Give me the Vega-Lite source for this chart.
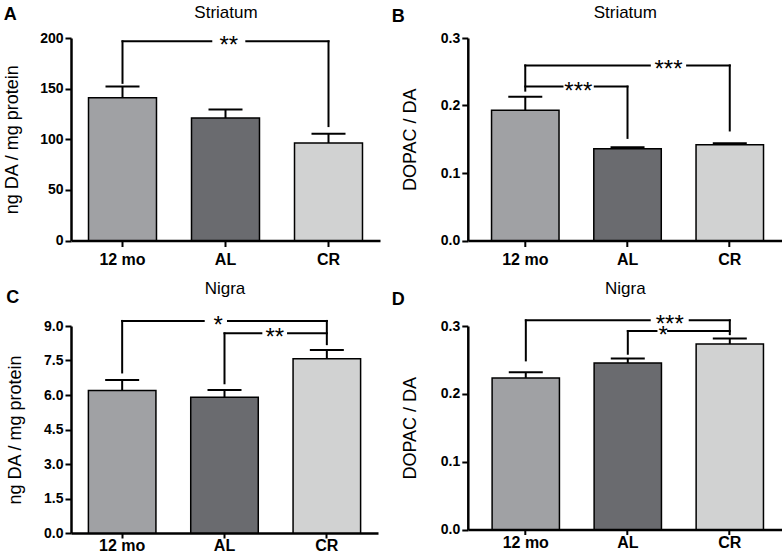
{
  "$schema": "https://vega.github.io/schema/vega-lite/v6.json",
  "padding": {"left": 3, "top": 3, "right": 0, "bottom": 0},
  "config": {
    "font": "Liberation Sans",
    "view": {"stroke": null},
    "axis": {"labelColor": "black", "titleColor": "black", "domainColor": "black", "tickColor": "black", "grid": false},
    "title": {"color": "black", "font": "Liberation Sans"}
  },
  "datasets": {
    "bars": [
      {"panel": "A", "group": "12 mo", "mean": 141, "upper": 152},
      {"panel": "A", "group": "AL", "mean": 121, "upper": 129.5},
      {"panel": "A", "group": "CR", "mean": 96.3, "upper": 105.5},
      {"panel": "B", "group": "12 mo", "mean": 0.193, "upper": 0.213},
      {"panel": "B", "group": "AL", "mean": 0.136, "upper": 0.138},
      {"panel": "B", "group": "CR", "mean": 0.142, "upper": 0.144},
      {"panel": "C", "group": "12 mo", "mean": 6.2, "upper": 6.65},
      {"panel": "C", "group": "AL", "mean": 5.9, "upper": 6.22},
      {"panel": "C", "group": "CR", "mean": 7.58, "upper": 7.96},
      {"panel": "D", "group": "12 mo", "mean": 0.2235, "upper": 0.232},
      {"panel": "D", "group": "AL", "mean": 0.2455, "upper": 0.252},
      {"panel": "D", "group": "CR", "mean": 0.2735, "upper": 0.2815}
    ],
    "brackets": [
      {"panel": "A", "x": 0.5, "x2": 1.362, "y": 196.7, "y2": 196.7},
      {"panel": "A", "x": 1.702, "x2": 2.5, "y": 196.7, "y2": 196.7},
      {"panel": "A", "x": 0.5, "x2": 0.5, "y": 196.7, "y2": 155.7},
      {"panel": "A", "x": 2.5, "x2": 2.5, "y": 196.7, "y2": 113},
      {"panel": "B", "x": 0.5, "x2": 1.718, "y": 0.2594, "y2": 0.2594},
      {"panel": "B", "x": 2.083, "x2": 2.5, "y": 0.2594, "y2": 0.2594},
      {"panel": "B", "x": 0.5, "x2": 0.5, "y": 0.2594, "y2": 0.222},
      {"panel": "B", "x": 2.5, "x2": 2.5, "y": 0.2594, "y2": 0.163},
      {"panel": "B", "x": 0.5, "x2": 0.864, "y": 0.228, "y2": 0.228},
      {"panel": "B", "x": 1.18, "x2": 1.5, "y": 0.228, "y2": 0.228},
      {"panel": "B", "x": 1.5, "x2": 1.5, "y": 0.228, "y2": 0.152},
      {"panel": "C", "x": 0.5, "x2": 1.297, "y": 9.22, "y2": 9.22},
      {"panel": "C", "x": 1.534, "x2": 2.5, "y": 9.22, "y2": 9.22},
      {"panel": "C", "x": 0.5, "x2": 0.5, "y": 9.22, "y2": 6.98},
      {"panel": "C", "x": 2.5, "x2": 2.5, "y": 9.22, "y2": 8.21},
      {"panel": "C", "x": 1.5, "x2": 1.86, "y": 8.68, "y2": 8.68},
      {"panel": "C", "x": 2.121, "x2": 2.5, "y": 8.68, "y2": 8.68},
      {"panel": "C", "x": 1.5, "x2": 1.5, "y": 8.68, "y2": 6.51},
      {"panel": "D", "x": 0.5, "x2": 1.715, "y": 0.3083, "y2": 0.3083},
      {"panel": "D", "x": 2.107, "x2": 2.5, "y": 0.3083, "y2": 0.3083},
      {"panel": "D", "x": 0.5, "x2": 0.5, "y": 0.3083, "y2": 0.2493},
      {"panel": "D", "x": 2.5, "x2": 2.5, "y": 0.3083, "y2": 0.288},
      {"panel": "D", "x": 1.5, "x2": 1.781, "y": 0.2926, "y2": 0.2926},
      {"panel": "D", "x": 1.895, "x2": 2.5, "y": 0.2926, "y2": 0.2926},
      {"panel": "D", "x": 1.5, "x2": 1.5, "y": 0.2926, "y2": 0.2591}
    ],
    "stars": [
      {"panel": "A", "x": 1.532, "y": 196.7, "label": "**"},
      {"panel": "B", "x": 1.019, "y": 0.228, "label": "***"},
      {"panel": "B", "x": 1.901, "y": 0.2594, "label": "***"},
      {"panel": "C", "x": 1.437, "y": 9.22, "label": "*"},
      {"panel": "C", "x": 1.991, "y": 8.68, "label": "**"},
      {"panel": "D", "x": 1.911, "y": 0.3083, "label": "***"},
      {"panel": "D", "x": 1.846, "y": 0.2926, "label": "*"}
    ]
  },
  "vconcat": [
    {
      "hconcat": [
        {
          "width": 309, "height": 202.5,
          "title": {"text": "A", "anchor": "start", "frame": "bounds", "baseline": "alphabetic", "offset": -33.6, "fontSize": 18, "fontWeight": "bold"},
          "resolve": {"scale": {"x": "independent"}, "axis": {"x": "independent"}},
          "layer": [
            {
              "data": {"name": "bars"},
              "transform": [{"filter": "datum.panel == 'A'"}],
              "encoding": {
                "x": {"field": "group", "type": "nominal", "sort": ["12 mo", "AL", "CR"], "scale": {"type": "band", "paddingInner": 0.34, "paddingOuter": 0.17},
                  "axis": {"title": null, "labelAngle": 0, "labelFontSize": 16, "labelFontWeight": "bold", "labelPadding": 5, "tickSize": 6, "tickWidth": 2, "domainWidth": 2.5}}
              },
              "layer": [
                {"mark": {"type": "bar", "stroke": "black", "strokeWidth": 1.5},
                 "encoding": {
                   "y": {"field": "mean", "type": "quantitative", "scale": {"domain": [0, 200], "nice": false},
                     "axis": {"title": "ng DA / mg protein", "values": [0, 50, 100, 150, 200], "labelFontSize": 14, "labelFontWeight": "bold", "labelPadding": 2, "tickSize": 6, "tickWidth": 2, "domainWidth": 2.5, "titleFontSize": 18, "titleFontWeight": "normal", "titlePadding": 18}},
                   "color": {"field": "group", "type": "nominal", "scale": {"domain": ["12 mo", "AL", "CR"], "range": ["#a0a1a4", "#6a6b6f", "#d1d2d2"]}, "legend": null}}},
                {"mark": {"type": "rule", "color": "black", "strokeWidth": 2},
                 "encoding": {"y": {"field": "mean", "type": "quantitative",
                     "axis": {"title": "ng DA / mg protein", "values": [0, 50, 100, 150, 200], "labelFontSize": 14, "labelFontWeight": "bold", "labelPadding": 2, "tickSize": 6, "tickWidth": 2, "domainWidth": 2.5, "titleFontSize": 18, "titleFontWeight": "normal", "titlePadding": 18}}, "y2": {"field": "upper"}}},
                {"mark": {"type": "tick", "color": "black", "thickness": 2, "size": 34, "opacity": 1},
                 "encoding": {"y": {"field": "upper", "type": "quantitative",
                     "axis": {"title": "ng DA / mg protein", "values": [0, 50, 100, 150, 200], "labelFontSize": 14, "labelFontWeight": "bold", "labelPadding": 2, "tickSize": 6, "tickWidth": 2, "domainWidth": 2.5, "titleFontSize": 18, "titleFontWeight": "normal", "titlePadding": 18}}}}
              ]
            },
            {
              "layer": [
                {"data": {"name": "brackets"}, "transform": [{"filter": "datum.panel == 'A'"}],
                 "mark": {"type": "rule", "color": "black", "strokeWidth": 2, "strokeCap": "square"},
                 "encoding": {
                   "x": {"field": "x", "type": "quantitative", "scale": {"domain": [0, 3], "nice": false, "zero": false},
                     "axis": {"orient": "top", "title": "Striatum", "labels": false, "ticks": false, "domain": false, "titleFontSize": 17, "titleFontWeight": "normal", "titlePadding": 16.1}},
                   "x2": {"field": "x2"},
                   "y": {"field": "y", "type": "quantitative", "scale": {"domain": [0, 200], "nice": false},
                     "axis": {"title": "ng DA / mg protein", "values": [0, 50, 100, 150, 200], "labelFontSize": 14, "labelFontWeight": "bold", "labelPadding": 2, "tickSize": 6, "tickWidth": 2, "domainWidth": 2.5, "titleFontSize": 18, "titleFontWeight": "normal", "titlePadding": 18}},
                   "y2": {"field": "y2"}}},
                {"data": {"name": "stars"}, "transform": [{"filter": "datum.panel == 'A'"}],
                 "mark": {"type": "text", "fontSize": 24, "baseline": "alphabetic", "dy": 12, "color": "black"},
                 "encoding": {
                   "x": {"field": "x", "type": "quantitative",
                     "axis": {"orient": "top", "title": "Striatum", "labels": false, "ticks": false, "domain": false, "titleFontSize": 17, "titleFontWeight": "normal", "titlePadding": 16.1}},
                   "y": {"field": "y", "type": "quantitative",
                     "axis": {"title": "ng DA / mg protein", "values": [0, 50, 100, 150, 200], "labelFontSize": 14, "labelFontWeight": "bold", "labelPadding": 2, "tickSize": 6, "tickWidth": 2, "domainWidth": 2.5, "titleFontSize": 18, "titleFontWeight": "normal", "titlePadding": 18}},
                   "text": {"field": "label"}}}
              ]
            }
          ]
        },
        {
          "width": 314, "height": 202.5,
          "title": {"text": "B", "anchor": "start", "frame": "bounds", "baseline": "alphabetic", "offset": -35.8, "dx": -10, "fontSize": 18, "fontWeight": "bold"},
          "resolve": {"scale": {"x": "independent"}, "axis": {"x": "independent"}},
          "layer": [
            {
              "data": {"name": "bars"},
              "transform": [{"filter": "datum.panel == 'B'"}],
              "encoding": {
                "x": {"field": "group", "type": "nominal", "sort": ["12 mo", "AL", "CR"], "scale": {"type": "band", "paddingInner": 0.34, "paddingOuter": 0.2055, "align": 0.565},
                  "axis": {"title": null, "labelAngle": 0, "labelFontSize": 16, "labelFontWeight": "bold", "labelPadding": 5, "tickSize": 6, "tickWidth": 2, "domainWidth": 2.5}}
              },
              "layer": [
                {"mark": {"type": "bar", "stroke": "black", "strokeWidth": 1.5},
                 "encoding": {
                   "y": {"field": "mean", "type": "quantitative", "scale": {"domain": [0, 0.3], "nice": false},
                     "axis": {"title": "DOPAC / DA", "values": [0, 0.1, 0.2, 0.3], "format": ".1f", "labelFontSize": 14, "labelFontWeight": "bold", "labelPadding": 2, "tickSize": 6, "tickWidth": 2, "domainWidth": 2.5, "titleFontSize": 18, "titleFontWeight": "normal", "titlePadding": 20.6}},
                   "color": {"field": "group", "type": "nominal", "scale": {"domain": ["12 mo", "AL", "CR"], "range": ["#a0a1a4", "#6a6b6f", "#d1d2d2"]}, "legend": null}}},
                {"mark": {"type": "rule", "color": "black", "strokeWidth": 2},
                 "encoding": {"y": {"field": "mean", "type": "quantitative",
                     "axis": {"title": "DOPAC / DA", "values": [0, 0.1, 0.2, 0.3], "format": ".1f", "labelFontSize": 14, "labelFontWeight": "bold", "labelPadding": 2, "tickSize": 6, "tickWidth": 2, "domainWidth": 2.5, "titleFontSize": 18, "titleFontWeight": "normal", "titlePadding": 20.6}}, "y2": {"field": "upper"}}},
                {"mark": {"type": "tick", "color": "black", "thickness": 2, "size": 34, "opacity": 1},
                 "encoding": {"y": {"field": "upper", "type": "quantitative",
                     "axis": {"title": "DOPAC / DA", "values": [0, 0.1, 0.2, 0.3], "format": ".1f", "labelFontSize": 14, "labelFontWeight": "bold", "labelPadding": 2, "tickSize": 6, "tickWidth": 2, "domainWidth": 2.5, "titleFontSize": 18, "titleFontWeight": "normal", "titlePadding": 20.6}}}}
              ]
            },
            {
              "layer": [
                {"data": {"name": "brackets"}, "transform": [{"filter": "datum.panel == 'B'"}],
                 "mark": {"type": "rule", "color": "black", "strokeWidth": 2, "strokeCap": "square"},
                 "encoding": {
                   "x": {"field": "x", "type": "quantitative", "scale": {"domain": [-0.062, 3.009], "nice": false, "zero": false},
                     "axis": {"orient": "top", "title": "Striatum", "labels": false, "ticks": false, "domain": false, "titleFontSize": 17, "titleFontWeight": "normal", "titlePadding": 16.1}},
                   "x2": {"field": "x2"},
                   "y": {"field": "y", "type": "quantitative", "scale": {"domain": [0, 0.3], "nice": false},
                     "axis": {"title": "DOPAC / DA", "values": [0, 0.1, 0.2, 0.3], "format": ".1f", "labelFontSize": 14, "labelFontWeight": "bold", "labelPadding": 2, "tickSize": 6, "tickWidth": 2, "domainWidth": 2.5, "titleFontSize": 18, "titleFontWeight": "normal", "titlePadding": 20.6}},
                   "y2": {"field": "y2"}}},
                {"data": {"name": "stars"}, "transform": [{"filter": "datum.panel == 'B'"}],
                 "mark": {"type": "text", "fontSize": 24, "baseline": "alphabetic", "dy": 12, "color": "black"},
                 "encoding": {
                   "x": {"field": "x", "type": "quantitative",
                     "axis": {"orient": "top", "title": "Striatum", "labels": false, "ticks": false, "domain": false, "titleFontSize": 17, "titleFontWeight": "normal", "titlePadding": 16.1}},
                   "y": {"field": "y", "type": "quantitative",
                     "axis": {"title": "DOPAC / DA", "values": [0, 0.1, 0.2, 0.3], "format": ".1f", "labelFontSize": 14, "labelFontWeight": "bold", "labelPadding": 2, "tickSize": 6, "tickWidth": 2, "domainWidth": 2.5, "titleFontSize": 18, "titleFontWeight": "normal", "titlePadding": 20.6}},
                   "text": {"field": "label"}}}
              ]
            }
          ]
        }
      ],
      "spacing": 10.8
    },
    {
      "hconcat": [
        {
          "width": 307, "height": 207,
          "title": {"text": "C", "anchor": "start", "frame": "bounds", "baseline": "alphabetic", "offset": -41.5, "fontSize": 18, "fontWeight": "bold"},
          "resolve": {"scale": {"x": "independent"}, "axis": {"x": "independent"}},
          "layer": [
            {
              "data": {"name": "bars"},
              "transform": [{"filter": "datum.panel == 'C'"}],
              "encoding": {
                "x": {"field": "group", "type": "nominal", "sort": ["12 mo", "AL", "CR"], "scale": {"type": "band", "paddingInner": 0.34, "paddingOuter": 0.17},
                  "axis": {"title": null, "labelAngle": 0, "labelFontSize": 16, "labelFontWeight": "bold", "labelPadding": -1, "tickSize": 5, "tickWidth": 2, "domainWidth": 2.5}}
              },
              "layer": [
                {"mark": {"type": "bar", "stroke": "black", "strokeWidth": 1.5},
                 "encoding": {
                   "y": {"field": "mean", "type": "quantitative", "scale": {"domain": [0, 9], "nice": false},
                     "axis": {"title": "ng DA / mg protein", "values": [0, 1.5, 3, 4.5, 6, 7.5, 9], "format": ".1f", "labelFontSize": 14, "labelFontWeight": "bold", "labelPadding": 2, "tickSize": 6, "tickWidth": 2, "domainWidth": 2.5, "titleFontSize": 18, "titleFontWeight": "normal", "titlePadding": 19.4}},
                   "color": {"field": "group", "type": "nominal", "scale": {"domain": ["12 mo", "AL", "CR"], "range": ["#a0a1a4", "#6a6b6f", "#d1d2d2"]}, "legend": null}}},
                {"mark": {"type": "rule", "color": "black", "strokeWidth": 2},
                 "encoding": {"y": {"field": "mean", "type": "quantitative",
                     "axis": {"title": "ng DA / mg protein", "values": [0, 1.5, 3, 4.5, 6, 7.5, 9], "format": ".1f", "labelFontSize": 14, "labelFontWeight": "bold", "labelPadding": 2, "tickSize": 6, "tickWidth": 2, "domainWidth": 2.5, "titleFontSize": 18, "titleFontWeight": "normal", "titlePadding": 19.4}}, "y2": {"field": "upper"}}},
                {"mark": {"type": "tick", "color": "black", "thickness": 2, "size": 34, "opacity": 1},
                 "encoding": {"y": {"field": "upper", "type": "quantitative",
                     "axis": {"title": "ng DA / mg protein", "values": [0, 1.5, 3, 4.5, 6, 7.5, 9], "format": ".1f", "labelFontSize": 14, "labelFontWeight": "bold", "labelPadding": 2, "tickSize": 6, "tickWidth": 2, "domainWidth": 2.5, "titleFontSize": 18, "titleFontWeight": "normal", "titlePadding": 19.4}}}}
              ]
            },
            {
              "layer": [
                {"data": {"name": "brackets"}, "transform": [{"filter": "datum.panel == 'C'"}],
                 "mark": {"type": "rule", "color": "black", "strokeWidth": 2, "strokeCap": "square"},
                 "encoding": {
                   "x": {"field": "x", "type": "quantitative", "scale": {"domain": [0, 3], "nice": false, "zero": false},
                     "axis": {"orient": "top", "title": "Nigra", "labels": false, "ticks": false, "domain": false, "titleFontSize": 17, "titleFontWeight": "normal", "titlePadding": 28.7}},
                   "x2": {"field": "x2"},
                   "y": {"field": "y", "type": "quantitative", "scale": {"domain": [0, 9], "nice": false},
                     "axis": {"title": "ng DA / mg protein", "values": [0, 1.5, 3, 4.5, 6, 7.5, 9], "format": ".1f", "labelFontSize": 14, "labelFontWeight": "bold", "labelPadding": 2, "tickSize": 6, "tickWidth": 2, "domainWidth": 2.5, "titleFontSize": 18, "titleFontWeight": "normal", "titlePadding": 19.4}},
                   "y2": {"field": "y2"}}},
                {"data": {"name": "stars"}, "transform": [{"filter": "datum.panel == 'C'"}],
                 "mark": {"type": "text", "fontSize": 24, "baseline": "alphabetic", "dy": 12, "color": "black"},
                 "encoding": {
                   "x": {"field": "x", "type": "quantitative",
                     "axis": {"orient": "top", "title": "Nigra", "labels": false, "ticks": false, "domain": false, "titleFontSize": 17, "titleFontWeight": "normal", "titlePadding": 28.7}},
                   "y": {"field": "y", "type": "quantitative",
                     "axis": {"title": "ng DA / mg protein", "values": [0, 1.5, 3, 4.5, 6, 7.5, 9], "format": ".1f", "labelFontSize": 14, "labelFontWeight": "bold", "labelPadding": 2, "tickSize": 6, "tickWidth": 2, "domainWidth": 2.5, "titleFontSize": 18, "titleFontWeight": "normal", "titlePadding": 19.4}},
                   "text": {"field": "label"}}}
              ]
            }
          ]
        },
        {
          "width": 314, "height": 203.5,
          "title": {"text": "D", "anchor": "start", "frame": "bounds", "baseline": "alphabetic", "offset": -43.8, "dx": -10, "fontSize": 18, "fontWeight": "bold"},
          "resolve": {"scale": {"x": "independent"}, "axis": {"x": "independent"}},
          "layer": [
            {
              "data": {"name": "bars"},
              "transform": [{"filter": "datum.panel == 'D'"}],
              "encoding": {
                "x": {"field": "group", "type": "nominal", "sort": ["12 mo", "AL", "CR"], "scale": {"type": "band", "paddingInner": 0.34, "paddingOuter": 0.209, "align": 0.57},
                  "axis": {"title": null, "labelAngle": 0, "labelFontSize": 16, "labelFontWeight": "bold", "labelPadding": 0, "tickSize": 5, "tickWidth": 2, "domainWidth": 2.5}}
              },
              "layer": [
                {"mark": {"type": "bar", "stroke": "black", "strokeWidth": 1.5},
                 "encoding": {
                   "y": {"field": "mean", "type": "quantitative", "scale": {"domain": [0, 0.3], "nice": false},
                     "axis": {"title": "DOPAC / DA", "values": [0, 0.1, 0.2, 0.3], "format": ".1f", "labelFontSize": 14, "labelFontWeight": "bold", "labelPadding": 2, "tickSize": 6, "tickWidth": 2, "domainWidth": 2.5, "titleFontSize": 18, "titleFontWeight": "normal", "titlePadding": 20.6}},
                   "color": {"field": "group", "type": "nominal", "scale": {"domain": ["12 mo", "AL", "CR"], "range": ["#a0a1a4", "#6a6b6f", "#d1d2d2"]}, "legend": null}}},
                {"mark": {"type": "rule", "color": "black", "strokeWidth": 2},
                 "encoding": {"y": {"field": "mean", "type": "quantitative",
                     "axis": {"title": "DOPAC / DA", "values": [0, 0.1, 0.2, 0.3], "format": ".1f", "labelFontSize": 14, "labelFontWeight": "bold", "labelPadding": 2, "tickSize": 6, "tickWidth": 2, "domainWidth": 2.5, "titleFontSize": 18, "titleFontWeight": "normal", "titlePadding": 20.6}}, "y2": {"field": "upper"}}},
                {"mark": {"type": "tick", "color": "black", "thickness": 2, "size": 34, "opacity": 1},
                 "encoding": {"y": {"field": "upper", "type": "quantitative",
                     "axis": {"title": "DOPAC / DA", "values": [0, 0.1, 0.2, 0.3], "format": ".1f", "labelFontSize": 14, "labelFontWeight": "bold", "labelPadding": 2, "tickSize": 6, "tickWidth": 2, "domainWidth": 2.5, "titleFontSize": 18, "titleFontWeight": "normal", "titlePadding": 20.6}}}}
              ]
            },
            {
              "layer": [
                {"data": {"name": "brackets"}, "transform": [{"filter": "datum.panel == 'D'"}],
                 "mark": {"type": "rule", "color": "black", "strokeWidth": 2, "strokeCap": "square"},
                 "encoding": {
                   "x": {"field": "x", "type": "quantitative", "scale": {"domain": [-0.069, 3.01], "nice": false, "zero": false},
                     "axis": {"orient": "top", "title": "Nigra", "labels": false, "ticks": false, "domain": false, "titleFontSize": 17, "titleFontWeight": "normal", "titlePadding": 28.7}},
                   "x2": {"field": "x2"},
                   "y": {"field": "y", "type": "quantitative", "scale": {"domain": [0, 0.3], "nice": false},
                     "axis": {"title": "DOPAC / DA", "values": [0, 0.1, 0.2, 0.3], "format": ".1f", "labelFontSize": 14, "labelFontWeight": "bold", "labelPadding": 2, "tickSize": 6, "tickWidth": 2, "domainWidth": 2.5, "titleFontSize": 18, "titleFontWeight": "normal", "titlePadding": 20.6}},
                   "y2": {"field": "y2"}}},
                {"data": {"name": "stars"}, "transform": [{"filter": "datum.panel == 'D'"}],
                 "mark": {"type": "text", "fontSize": 24, "baseline": "alphabetic", "dy": 12, "color": "black"},
                 "encoding": {
                   "x": {"field": "x", "type": "quantitative",
                     "axis": {"orient": "top", "title": "Nigra", "labels": false, "ticks": false, "domain": false, "titleFontSize": 17, "titleFontWeight": "normal", "titlePadding": 28.7}},
                   "y": {"field": "y", "type": "quantitative",
                     "axis": {"title": "DOPAC / DA", "values": [0, 0.1, 0.2, 0.3], "format": ".1f", "labelFontSize": 14, "labelFontWeight": "bold", "labelPadding": 2, "tickSize": 6, "tickWidth": 2, "domainWidth": 2.5, "titleFontSize": 18, "titleFontWeight": "normal", "titlePadding": 20.6}},
                   "text": {"field": "label"}}}
              ]
            }
          ]
        }
      ],
      "spacing": 12.8
    }
  ],
  "spacing": 11
}
